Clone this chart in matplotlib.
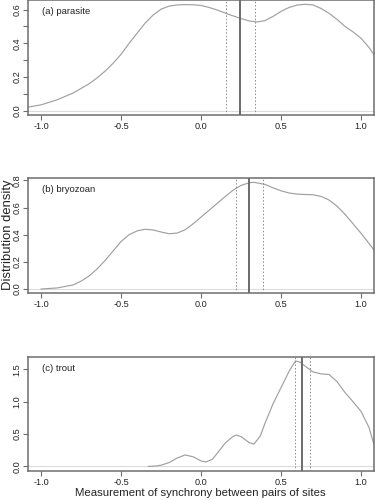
import matplotlib
matplotlib.use('Agg')
import matplotlib.pyplot as plt

plt.rcParams['font.family'] = ['Liberation Sans', 'DejaVu Sans']
plt.rcParams['axes.unicode_minus'] = False

# (a) parasite
x_a = [-1.08, -1.0, -0.9, -0.8, -0.7, -0.65, -0.6, -0.55, -0.5, -0.45, -0.4, -0.35, -0.3,
       -0.25, -0.2, -0.15, -0.1, -0.05, 0.0, 0.05, 0.1, 0.15, 0.2, 0.25, 0.3, 0.35, 0.4,
       0.45, 0.5, 0.55, 0.6, 0.65, 0.7, 0.75, 0.8, 0.85, 0.9, 0.95, 1.0, 1.05, 1.08]
y_a = [0.022, 0.035, 0.065, 0.105, 0.16, 0.195, 0.235, 0.282, 0.335, 0.40, 0.46, 0.52, 0.568,
       0.603, 0.621, 0.628, 0.63, 0.629, 0.625, 0.613, 0.598, 0.58, 0.563, 0.547, 0.533, 0.527, 0.535,
       0.56, 0.59, 0.613, 0.627, 0.632, 0.628, 0.607, 0.578, 0.542, 0.50, 0.468, 0.43, 0.375, 0.333]
ci_a = [0.157, 0.246, 0.338]

# (b) bryozoan
x_b = [-1.0, -0.9, -0.8, -0.75, -0.7, -0.65, -0.6, -0.55, -0.5, -0.45, -0.4, -0.35, -0.3,
       -0.25, -0.2, -0.15, -0.1, -0.05, 0.0, 0.05, 0.1, 0.15, 0.2, 0.25, 0.3, 0.33, 0.4,
       0.45, 0.5, 0.55, 0.6, 0.65, 0.7, 0.75, 0.8, 0.85, 0.9, 0.95, 1.0, 1.05, 1.08]
y_b = [0.0, 0.008, 0.03, 0.058, 0.096, 0.148, 0.21, 0.28, 0.35, 0.40, 0.428, 0.44, 0.435,
       0.42, 0.407, 0.412, 0.436, 0.48, 0.53, 0.58, 0.63, 0.68, 0.728, 0.763, 0.782, 0.786, 0.77,
       0.745, 0.723, 0.707, 0.699, 0.696, 0.694, 0.682, 0.655, 0.61, 0.55, 0.48, 0.41, 0.335, 0.288]
ci_b = [0.219, 0.302, 0.385]

# (c) trout
x_c = [-0.33, -0.28, -0.25, -0.2, -0.15, -0.1, -0.05, 0.0, 0.03, 0.07, 0.1, 0.15, 0.2,
       0.22, 0.25, 0.3, 0.33, 0.37, 0.4, 0.45, 0.5, 0.55, 0.59, 0.62, 0.65, 0.7, 0.75,
       0.8, 0.85, 0.9, 0.95, 1.0, 1.05, 1.08]
y_c = [0.0, 0.008, 0.02, 0.06, 0.13, 0.178, 0.15, 0.085, 0.07, 0.11, 0.2, 0.36, 0.465,
       0.485, 0.46, 0.37, 0.345, 0.47, 0.67, 0.97, 1.22, 1.47, 1.63, 1.61, 1.55, 1.46, 1.43,
       1.42, 1.31, 1.14, 1.0, 0.85, 0.6, 0.34]
ci_c = [0.584, 0.630, 0.680]

panels = [
    ('(a) parasite', x_a, y_a, ci_a, [0.77, 0.23], [0.0, 0.2, 0.4, 0.6], 0.1),
    ('(b) bryozoan', x_b, y_b, ci_b, [0.4134, 0.2306], [0.0, 0.2, 0.4, 0.6, 0.8], 0.2),
    ('(c) trout', x_c, y_c, ci_c, [0.0586, 0.228], [0.0, 0.5, 1.0, 1.5], 0.5),
]

fig = plt.figure(figsize=(3.75, 5), dpi=100)
spine_col = '#6e6e6e'

for label, xs, ys, ci, (bot, h), ylabs, ystep in panels:
    ax = fig.add_axes([0.0755, bot, 0.9215, h])
    ax.axhline(0, color='#dcdcdc', lw=0.8, zorder=1)
    ax.plot(xs, ys, color='#a0a0a0', lw=0.85, zorder=2)
    ax.axvline(ci[0], color='#8a8a8a', lw=0.7, ls=(0, (1.5, 2)), zorder=3)
    ax.axvline(ci[2], color='#8a8a8a', lw=0.7, ls=(0, (1.5, 2)), zorder=3)
    ax.axvline(ci[1], color='#6a6a6a', lw=1.4, zorder=3)
    ymax = max(ys)
    ax.set_xlim(-1.08, 1.08)
    ax.set_ylim(-0.04 * ymax, 1.04 * ymax)
    n = int(round(ylabs[-1] / ystep))
    yt = [round(i * ystep, 2) for i in range(n + 1)]
    ax.set_yticks(yt)
    ax.set_yticklabels([('%.1f' % v) if any(abs(v - l) < 1e-9 for l in ylabs) else '' for v in yt],
                       rotation=90, va='center')
    ax.set_xticks([-1.0, -0.5, 0.0, 0.5, 1.0])
    ax.set_xticklabels(['-1.0', '-0.5', '0.0', '0.5', '1.0'])
    ax.tick_params(direction='out', length=3.5, width=0.8, color=spine_col,
                   labelsize=6.6, labelcolor='#222222', pad=1.5)
    for s in ax.spines.values():
        s.set_color(spine_col)
        s.set_linewidth(1.1)
    ax.text(0.04, 0.9, label, transform=ax.transAxes, fontsize=6.8,
            color='#222222', va='center', ha='left')

fig.text(0.022, 0.53, 'Distribution density', rotation=90, va='center', ha='center',
         fontsize=9.4, color='#222222')
fig.text(0.535, 0.013, 'Measurement of synchrony between pairs of sites', va='center',
         ha='center', fontsize=8.2, color='#222222')

fig.savefig('out.png', dpi=100)
